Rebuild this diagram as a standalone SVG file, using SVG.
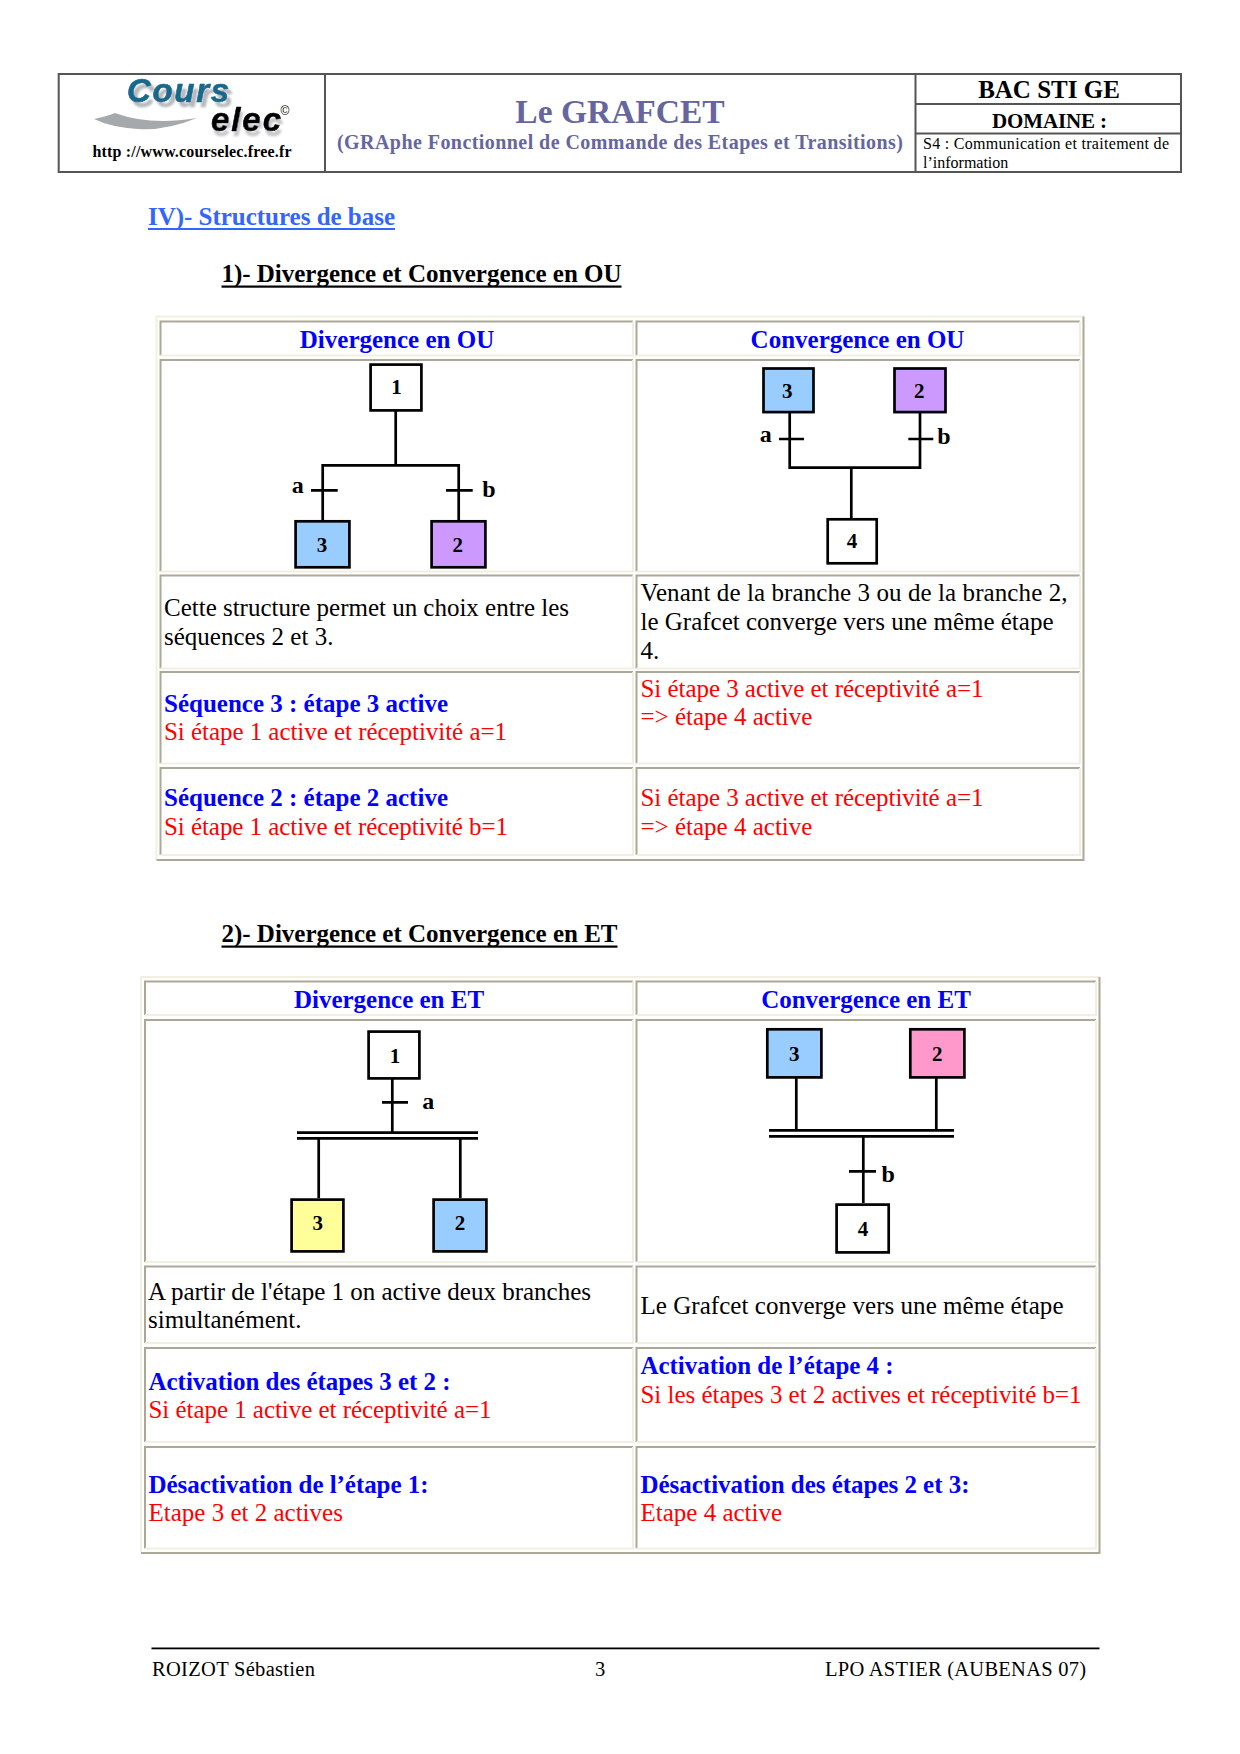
<svg xmlns="http://www.w3.org/2000/svg" width="1240" height="1754" viewBox="0 0 1240 1754">
<defs>
<filter id="shadow1" x="-10%" y="-10%" width="125%" height="145%"><feDropShadow dx="4" dy="5" stdDeviation="0.8" flood-color="#b4b8bc"/></filter>
<filter id="shadow2" x="-10%" y="-10%" width="125%" height="145%"><feDropShadow dx="2" dy="5" stdDeviation="1" flood-color="#c4c6c8"/></filter>
</defs>
<style>
text{font-family:"Liberation Serif","Times New Roman",serif}
.hl{fill:none;stroke:#555;stroke-width:2}
.d,.l,.od,.ol{fill:none;stroke-width:2}
.d{stroke:#aca899}.l{stroke:#f1efe2}.od{stroke:#aca899}.ol{stroke:#f1efe2}
.b{font-weight:bold}
.h{font-weight:bold;font-size:25px;fill:#0000ff;text-anchor:middle}
.t{font-size:25px;fill:#000}
.r{font-size:25px;fill:#ff0000}
.bl{font-size:25px;font-weight:bold;fill:#0000ff}
.sec{font-size:25px;font-weight:bold;fill:#000}
.foot{font-size:20.5px;fill:#000}
.logo{font-family:"Liberation Sans",sans-serif;font-weight:bold;font-style:italic;font-size:33px}
.step{stroke:#000;stroke-width:2.7}
.w{fill:#fff}.blue{fill:#99ccff}.pur{fill:#cc99ff}.yel{fill:#ffff99}.pink{fill:#ff99cc}
.n{font-weight:bold;font-size:21px;text-anchor:middle;fill:#000}
.v{font-weight:bold;font-size:24px;text-anchor:middle;fill:#000}
.c path{fill:none;stroke:#000;stroke-width:2.7}
</style>

<g id="header">
<rect class="hl" x="58.7" y="74" width="1122.3" height="98" fill="#fff"/>
<path class="hl" d="M325 74V172M915.5 74V172M915.5 104H1181M915.5 133.500H1181"/>
<g id="logo">
<path d="M94 119Q108 116 115 113Q150 126 197 118Q165 131 138 129Q110 127 94 119Z" fill="#a5a9ac"/>
<text class="logo" x="127" y="102" fill="#16688c" stroke="#16688c" stroke-width="0.6" textLength="102" filter="url(#shadow1)">Cours</text>
<text class="logo" x="211" y="131" fill="#000" stroke="#000" stroke-width="0.6" textLength="70" filter="url(#shadow2)">elec</text>
<text x="285" y="115" font-size="12" text-anchor="middle" style="font-family:'Liberation Sans',sans-serif">©</text>
</g>
<text class="b" x="192" y="157" font-size="16" text-anchor="middle" textLength="199">http ://www.courselec.free.fr</text>
<text class="b" x="620" y="123" font-size="33.500" text-anchor="middle" fill="#66669e">Le GRAFCET</text>
<text class="b" x="620" y="148.500" font-size="20" text-anchor="middle" fill="#66669e" textLength="566">(GRAphe Fonctionnel de Commande des Etapes et Transitions)</text>
<text class="b" x="1049" y="98" font-size="25" text-anchor="middle">BAC STI GE</text>
<text class="b" x="1049.500" y="128" font-size="21" text-anchor="middle" textLength="115">DOMAINE :</text>
<text x="923" y="149" font-size="16" textLength="246">S4 : Communication et traitement de</text>
<text x="923" y="168" font-size="16">l’information</text>
</g>

<text x="148" y="225" font-size="25" font-weight="bold" fill="#3366ff" textLength="247">IV)- Structures de base</text>
<rect x="148" y="228" width="247" height="2" fill="#3366ff"/>
<text class="sec" x="221.500" y="282" textLength="400">1)- Divergence et Convergence en OU</text>
<rect x="221.500" y="285.500" width="400" height="2.200" fill="#000"/>

<g id="table1">
<path class="ol" d="M156.500 860V316.500H1083.500"/><path class="od" d="M1083.500 316.500V860H156.500"/>
<path class="d" d="M160.500 355.500V321.500H633"/><path class="l" d="M633 321.500V355.500H160.500"/>
<path class="d" d="M636.500 355.500V321.500H1080"/><path class="l" d="M1080 321.500V355.500H636.500"/>
<path class="d" d="M160.500 571.500V360H633"/><path class="l" d="M633 360V571.500H160.500"/>
<path class="d" d="M636.500 571.500V360H1080"/><path class="l" d="M1080 360V571.500H636.500"/>
<path class="d" d="M160.500 668.500V575.500H633"/><path class="l" d="M633 575.500V668.500H160.500"/>
<path class="d" d="M636.500 668.500V575.500H1080"/><path class="l" d="M1080 575.500V668.500H636.500"/>
<path class="d" d="M160.500 763.500V672H633"/><path class="l" d="M633 672V763.500H160.500"/>
<path class="d" d="M636.500 763.500V672H1080"/><path class="l" d="M1080 672V763.500H636.500"/>
<path class="d" d="M160.500 855V768H633"/><path class="l" d="M633 768V855H160.500"/>
<path class="d" d="M636.500 855V768H1080"/><path class="l" d="M1080 768V855H636.500"/>
<text class="h" x="397" y="348">Divergence en OU</text>
<text class="h" x="857.500" y="348">Convergence en OU</text>
<text class="t" x="164" y="616" textLength="405">Cette structure permet un choix entre les</text>
<text class="t" x="164" y="645">séquences 2 et 3.</text>
<text class="t" x="640.500" y="601" textLength="427">Venant de la branche 3 ou de la branche 2,</text>
<text class="t" x="640.500" y="630" textLength="413">le Grafcet converge vers une même étape</text>
<text class="t" x="640.500" y="659">4.</text>
<text class="bl" x="164" y="712" textLength="284">Séquence 3 : étape 3 active</text>
<text class="r" x="164" y="740" textLength="343">Si étape 1 active et réceptivité a=1</text>
<text class="r" x="640.500" y="697" textLength="343">Si étape 3 active et réceptivité a=1</text>
<text class="r" x="640.500" y="725">=&gt; étape 4 active</text>
<text class="bl" x="164" y="806" textLength="284">Séquence 2 : étape 2 active</text>
<text class="r" x="164" y="834.500" textLength="344">Si étape 1 active et réceptivité b=1</text>
<text class="r" x="640.500" y="806" textLength="343">Si étape 3 active et réceptivité a=1</text>
<text class="r" x="640.500" y="834.500">=&gt; étape 4 active</text>
</g>

<g id="connectors" class="c">
<path d="M395.700 411V465.300M322.700 520V465.300H458.700V520M311 490.300H337.700M446 490.300H472.700"/>
<path d="M789.700 413V467.700H920V413M851.300 467.700V518M779 439H804M908.300 439H933.300"/>
<path d="M392.300 1079V1133M382 1102.300H408M297 1132.700H478M297 1138.300H478M318.700 1138V1198M460.300 1138V1198"/>
<path d="M796.300 1078V1130M936.300 1078V1130M769 1130.300H954M769 1136.300H954M863.300 1136V1203M849 1171.300H876"/>
</g>

<g id="d1-step1"><rect class="step w" x="370.600" y="364.600" width="50.800" height="45.800"/><text class="n" x="396.500" y="394">1</text></g>
<g id="d1-step3"><rect class="step blue" x="295.600" y="521.300" width="53.800" height="46"/><text class="n" x="322" y="552">3</text></g>
<g id="d1-step2"><rect class="step pur" x="431.600" y="521.300" width="53.800" height="46"/><text class="n" x="457.700" y="552">2</text></g>
<text class="v" x="297.700" y="493">a</text><text class="v" x="489" y="497">b</text>

<g id="d2-step3"><rect class="step blue" x="763.500" y="368.500" width="50" height="43.600"/><text class="n" x="787.300" y="397.500">3</text></g>
<g id="d2-step2"><rect class="step pur" x="894.500" y="368.500" width="51" height="43.600"/><text class="n" x="919.300" y="397.500">2</text></g>
<g id="d2-step4"><rect class="step w" x="827.700" y="519.300" width="49" height="44"/><text class="n" x="852" y="548">4</text></g>
<text class="v" x="765.700" y="441.700">a</text><text class="v" x="944" y="444.300">b</text>

<text class="sec" x="221.500" y="941.500" textLength="396">2)- Divergence et Convergence en ET</text>
<rect x="221.500" y="945.500" width="396" height="2.200" fill="#000"/>

<g id="table2">
<path class="ol" d="M141 1553V977H1099.500"/><path class="od" d="M1099.500 977V1553H141"/>
<path class="d" d="M145 1015V981.500H633"/><path class="l" d="M633 981.500V1015H145"/>
<path class="d" d="M636.500 1015V981.500H1096"/><path class="l" d="M1096 981.500V1015H636.500"/>
<path class="d" d="M145 1262V1020H633"/><path class="l" d="M633 1020V1262H145"/>
<path class="d" d="M636.500 1262V1020H1096"/><path class="l" d="M1096 1020V1262H636.500"/>
<path class="d" d="M145 1343V1266.500H633"/><path class="l" d="M633 1266.500V1343H145"/>
<path class="d" d="M636.500 1343V1266.500H1096"/><path class="l" d="M1096 1266.500V1343H636.500"/>
<path class="d" d="M145 1442V1348H633"/><path class="l" d="M633 1348V1442H145"/>
<path class="d" d="M636.500 1442V1348H1096"/><path class="l" d="M1096 1348V1442H636.500"/>
<path class="d" d="M145 1548.500V1447H633"/><path class="l" d="M633 1447V1548.500H145"/>
<path class="d" d="M636.500 1548.500V1447H1096"/><path class="l" d="M1096 1447V1548.500H636.500"/>
<text class="h" x="389" y="1008">Divergence en ET</text>
<text class="h" x="866" y="1008">Convergence en ET</text>
<text class="t" x="148" y="1299.500" textLength="443">A partir de l'étape 1 on active deux branches</text>
<text class="t" x="148" y="1327.500">simultanément.</text>
<text class="t" x="640.500" y="1314" textLength="423">Le Grafcet converge vers une même étape</text>
<text class="bl" x="148.500" y="1390" textLength="302">Activation des étapes 3 et 2 :</text>
<text class="r" x="148.500" y="1418" textLength="343">Si étape 1 active et réceptivité a=1</text>
<text class="bl" x="640.500" y="1374" textLength="253">Activation de l’étape 4 :</text>
<text class="r" x="640.500" y="1403" textLength="441">Si les étapes 3 et 2 actives et réceptivité b=1</text>
<text class="bl" x="148.500" y="1493" textLength="280">Désactivation de l’étape 1:</text>
<text class="r" x="148.500" y="1521">Etape 3 et 2 actives</text>
<text class="bl" x="640.500" y="1493" textLength="329">Désactivation des étapes 2 et 3:</text>
<text class="r" x="640.500" y="1521">Etape 4 active</text>
</g>

<g id="d3-step1"><rect class="step w" x="368.600" y="1031.600" width="50.800" height="46.800"/><text class="n" x="395" y="1062.500">1</text></g>
<g id="d3-step3"><rect class="step yel" x="291.600" y="1199.600" width="51.800" height="51.800"/><text class="n" x="317.700" y="1230">3</text></g>
<g id="d3-step2"><rect class="step blue" x="433.600" y="1199.600" width="52.800" height="51.800"/><text class="n" x="460" y="1230">2</text></g>
<text class="v" x="428.300" y="1109.300">a</text>

<g id="d4-step3"><rect class="step blue" x="767.300" y="1029.300" width="54.100" height="48.100"/><text class="n" x="794.300" y="1060.500">3</text></g>
<g id="d4-step2"><rect class="step pink" x="910.300" y="1029.300" width="54.100" height="48.100"/><text class="n" x="937.300" y="1060.500">2</text></g>
<g id="d4-step4"><rect class="step w" x="836.600" y="1204.600" width="52.100" height="47.800"/><text class="n" x="863" y="1236">4</text></g>
<text class="v" x="888.300" y="1181.700">b</text>

<g id="footer">
<rect x="151.500" y="1647.500" width="948" height="1.800" fill="#000"/>
<text class="foot" x="152" y="1675.500" textLength="163">ROIZOT Sébastien</text>
<text class="foot" x="600" y="1675.500" text-anchor="middle">3</text>
<text class="foot" x="825" y="1675.500" textLength="261">LPO ASTIER (AUBENAS 07)</text>
</g>
</svg>
